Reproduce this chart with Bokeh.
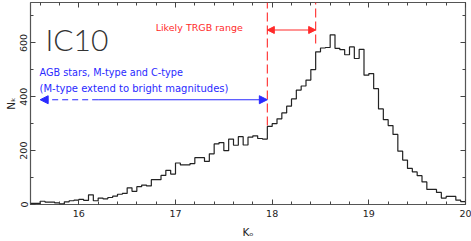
import numpy as np
from bokeh.plotting import figure
from bokeh.models import (Range1d, LinearAxis, SingleIntervalTicker, Label,
                          Arrow, NormalHead, CustomJSTickFormatter)
from bokeh.embed import file_html
from bokeh.resources import INLINE

# ---- data -------------------------------------------------------------
bin_start = 15.5
bin_width = 0.05
counts = [
    4, 4, 12, 9, 9, 6, 2, 10, 14, 16,            # 15.50 - 15.95
    19, 15, 36, 14, 24, 21, 26, 31, 38, 41,      # 16.00 - 16.45
    62, 49, 66, 72, 69, 92, 92, 108, 127, 113,   # 16.50 - 16.95
    154, 147, 147, 152, 174, 174, 160, 188, 225, 230,  # 17.00 - 17.45
    200, 243, 220, 252, 221, 250, 255, 245, 243, 290,  # 17.50 - 17.95
    300, 318, 340, 365, 392, 425, 440, 462, 501, 567,  # 18.00 - 18.45
    581, 583, 630, 580, 575, 556, 585, 542, 576, 480,  # 18.50 - 18.95
    486, 430, 355, 315, 293, 260, 198, 165, 134, 121,  # 19.00 - 19.45
    107, 84, 56, 56, 45, 24, 30, 30, 16, 11,     # 19.50 - 19.95
]
x_range = (15.5, 20.0)
y_range = (0, 750)
trgb_lo, trgb_hi = 17.95, 18.45
agb_lo = 15.6
agb_dash_end = 16.2

# ---- figure -----------------------------------------------------------
p = figure(width=471, height=241, output_backend="svg", toolbar_location=None,
           x_range=Range1d(*x_range), y_range=Range1d(*y_range),
           min_border_left=30, min_border_right=6, min_border_top=2,
           min_border_bottom=37)
p.grid.visible = False
p.outline_line_color = "#555555"
p.outline_line_width = 1.2
p.background_fill_color = "white"
p.border_fill_color = "white"

def style_axis(ax, show_labels):
    ax.axis_line_color = None
    ax.major_tick_line_color = "#444444"
    ax.minor_tick_line_color = "#444444"
    ax.major_tick_in = 5
    ax.major_tick_out = 0
    ax.minor_tick_in = 3
    ax.minor_tick_out = 0
    ax.major_label_text_font = "DejaVu Sans"
    ax.major_label_text_color = "#222222"
    ax.axis_label_text_font = "DejaVu Sans"
    ax.axis_label_text_font_style = "normal"
    ax.axis_label_text_font_size = "10.5px"
    ax.axis_label_text_color = "#222222"
    if show_labels:
        ax.major_label_text_font_size = "9.5px"
        ax.major_label_standoff = 5
    else:
        ax.formatter = CustomJSTickFormatter(code="return ''")
        ax.major_label_standoff = 0

p.xaxis.ticker = SingleIntervalTicker(interval=1, num_minor_ticks=5)
p.yaxis.ticker = SingleIntervalTicker(interval=200, num_minor_ticks=2)
style_axis(p.xaxis[0], True)
style_axis(p.yaxis[0], True)
p.yaxis.major_label_orientation = "vertical"
p.yaxis.major_label_standoff = 3
p.yaxis.axis_label = "N\u2096"
p.yaxis.axis_label_standoff = 1
p.xaxis.axis_label = "K\u2092"
p.xaxis.axis_label_standoff = 6

top = LinearAxis(ticker=SingleIntervalTicker(interval=1, num_minor_ticks=5))
right = LinearAxis(ticker=SingleIntervalTicker(interval=200, num_minor_ticks=2))
style_axis(top, False)
style_axis(right, False)
p.add_layout(top, "above")
p.add_layout(right, "right")

# ---- histogram --------------------------------------------------------
edges = bin_start + bin_width * np.arange(len(counts) + 1)
ys = counts + [counts[-1]]
p.step(edges, ys, mode="after", line_color="#222222", line_width=1.2)

# ---- annotations ------------------------------------------------------
red = "#ff2a2a"
blue = "#2a2aff"
p.segment(x0=[trgb_lo, trgb_hi], y0=[293, 598], x1=[trgb_lo, trgb_hi],
          y1=[y_range[1], y_range[1]], line_color=red, line_width=1.1,
          line_dash="9 4")

p.add_layout(Arrow(x_start=trgb_lo, y_start=648, x_end=trgb_hi, y_end=648,
                   line_color=red, line_width=1.1,
                   start=NormalHead(size=7, fill_color=red, line_color=red),
                   end=NormalHead(size=7, fill_color=red, line_color=red)))

p.add_layout(Arrow(x_start=agb_dash_end, y_start=389, x_end=agb_lo, y_end=389,
                   line_color=blue, line_width=1.1, line_dash="6 4",
                   start=None,
                   end=NormalHead(size=8, fill_color=blue, line_color=blue)))
p.add_layout(Arrow(x_start=agb_dash_end, y_start=389, x_end=trgb_lo, y_end=389,
                   line_color=blue, line_width=1.1,
                   start=None,
                   end=NormalHead(size=8, fill_color=blue, line_color=blue)))

def lab(x, y, text, size, color="#222222", font="DejaVu Sans"):
    p.add_layout(Label(x=x, y=y, text=text, text_font=font,
                       text_font_size=size, text_color=color,
                       text_align="left", text_baseline="alphabetic"))

lab(15.655, 614, "IC10", "30px", color="#333333", font="Lato Light")
lab(16.795, 657, "Likely TRGB range", "9.5px", color=red)
lab(15.593, 490, "AGB stars, M-type and C-type", "9.7px", color=blue)
lab(15.593, 431, "(M-type extend to bright magnitudes)", "10px", color=blue)

open("out.html", "w").write(file_html(p, INLINE))
